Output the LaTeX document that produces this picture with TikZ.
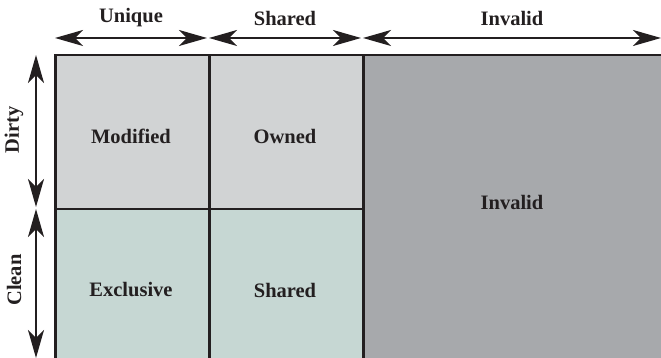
\documentclass[tikz,border=0pt]{standalone}
\usepackage{fontspec}
\setmainfont{Liberation Serif}
\usetikzlibrary{arrows.meta}
\definecolor{cellgray}{HTML}{D1D3D4}
\definecolor{cellgreen}{HTML}{C6D7D3}
\definecolor{celldark}{HTML}{A7A9AC}
\definecolor{ink}{HTML}{231F20}
\begin{document}
\begin{tikzpicture}[x=1pt,y=1pt,
  cell/.style={draw=ink,line width=2.5pt,inner sep=0pt,font=\bfseries\fontsize{20}{24}\selectfont,text=ink},
  lbl/.style={inner sep=0pt,font=\bfseries\fontsize{20.5}{24}\selectfont,text=ink},
  span/.style={draw=ink,line width=2.2pt,{Stealth[length=28pt,width=16pt,inset=8pt]}-{Stealth[length=28pt,width=16pt,inset=8pt]}}]
\useasboundingbox (0,0) rectangle (661,358);
% cells
\node[cell,fill=celldark,minimum width=301pt,minimum height=306pt,anchor=north west] (inv) at (362,304) {};
\node[cell,fill=cellgray,minimum width=154pt,minimum height=154pt,anchor=north west] (mod) at (54,304) {};
\node[cell,fill=cellgray,minimum width=154pt,minimum height=154pt,anchor=north west] (own) at (208,304) {};
\node[cell,fill=cellgreen,minimum width=154pt,minimum height=152pt,anchor=north west] (exc) at (54,150) {};
\node[cell,fill=cellgreen,minimum width=154pt,minimum height=152pt,anchor=north west] (sha) at (208,150) {};
% cell texts
\node[lbl] (tmod) at (131,222) {Modified};
\node[lbl] (town) at (285,222) {Owned};
\node[lbl] (tinv) at (512,156) {Invalid};
\node[lbl] (texc) at (131,68) {Exclusive};
\node[lbl] (tsha) at (285,68) {Shared};
% top spans
\coordinate (u1) at (55,320);
\coordinate (u2) at (207,320);
\coordinate (s1) at (209,320);
\coordinate (s2) at (361,320);
\coordinate (i1) at (363,320);
\coordinate (i2) at (661,320);
\draw[span] (u1) -- (u2);
\draw[span] (s1) -- (s2);
\draw[span] (i1) -- (i2);
\node[lbl] (lu) at (131,340) {Unique};
\node[lbl] (ls) at (285,340) {Shared};
\node[lbl] (li) at (512,340) {Invalid};
% left spans
\coordinate (d1) at (36,303);
\coordinate (d2) at (36,151);
\coordinate (c1) at (36,149);
\coordinate (c2) at (36,0);
\draw[span] (d1) -- (d2);
\draw[span] (c1) -- (c2);
\node[lbl,rotate=90] (ld) at (14,228) {Dirty};
\node[lbl,rotate=90] (lc) at (14,78) {Clean};
\end{tikzpicture}
\end{document}
